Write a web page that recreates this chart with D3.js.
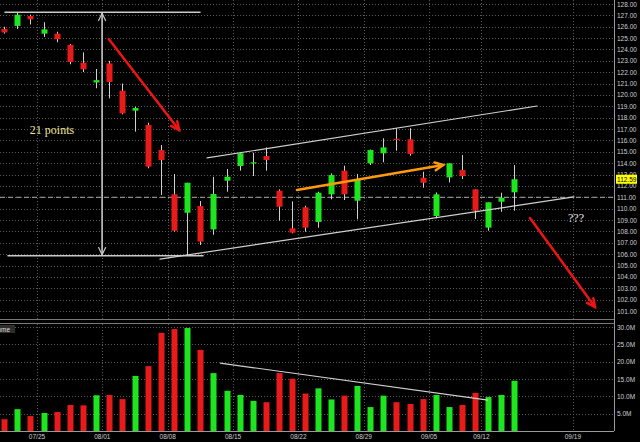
<!DOCTYPE html>
<html>
<head>
<meta charset="utf-8">
<style>
    body { margin: 0; background: #000; }
    svg { display: block; }
    text { font-family: "Liberation Sans", Arial, sans-serif; }
</style>
</head>
<body>
<svg id="chart" width="640" height="442"></svg>
<script src="https://d3js.org/d3.v7.min.js"></script>
<script>
    // trading days shown, then the empty calendar days on the right
    let dates = ['07/20', '07/21', '07/22',
        '07/25', '07/26', '07/27', '07/28', '07/29',
        '08/01', '08/02', '08/03', '08/04', '08/05',
        '08/08', '08/09', '08/10', '08/11', '08/12',
        '08/15', '08/16', '08/17', '08/18', '08/19',
        '08/22', '08/23', '08/24', '08/25', '08/26',
        '08/29', '08/30', '08/31', '09/01', '09/02',
        '09/06', '09/07', '09/08', '09/09',
        '09/12', '09/13', '09/14']
    let futureDays = ['09/15', '09/16', '09/17', '09/18', '09/19', '09/20', '09/21']

    let open = [125.8, 126.07, 126.94, 125.39, 125.39, 124.4, 122.84, 121.1, 122.78, 120.37,
        118.62, 117.36, 115.16, 111.26, 109.64, 110.23, 108.18, 112.46, 113.75, 114.0,
        114.63, 111.58, 108.27, 110.12, 108.83, 111.26, 113.34, 110.7, 113.99, 114.87,
        116.15, 116.1, 112.72, 109.35, 112.75, 113.4, 111.7, 108.33, 110.61, 111.44]
    let high = [126.0, 127.3, 127.06, 126.4, 125.56, 124.48, 123.75, 122.28, 123.0, 121.0,
        118.97, 117.56, 115.6, 113.05, 112.28, 110.67, 112.8, 113.49, 114.92, 114.92,
        115.39, 111.7, 110.64, 110.26, 111.49, 113.1, 113.78, 113.05, 115.2, 116.19,
        117.07, 117.07, 113.25, 111.43, 113.99, 114.72, 111.7, 110.56, 111.4, 113.84]
    let low = [125.4, 125.8, 126.2, 125.1, 124.63, 122.7, 122.02, 120.59, 119.7, 118.3,
        116.77, 113.55, 111.2, 107.97, 105.9, 106.8, 107.7, 111.49, 113.34, 112.87,
        113.34, 108.94, 107.83, 107.97, 108.33, 110.82, 110.76, 109.06, 113.84, 114.08,
        115.1, 114.66, 111.84, 109.15, 112.32, 112.61, 109.09, 108.06, 109.73, 109.82]
    let close = [125.5, 127.06, 126.65, 125.77, 124.9, 122.9, 122.26, 121.3, 121.14, 118.39,
        118.85, 113.7, 114.28, 108.06, 112.28, 107.1, 111.29, 112.81, 114.87, 114.08,
        114.28, 110.17, 107.89, 108.33, 111.4, 112.96, 111.26, 112.52, 115.16, 115.39,
        116.05, 114.81, 112.28, 111.26, 113.99, 112.87, 109.82, 110.56, 110.96, 112.59]
    // millions of shares
    let volume = [3.4, 6.3, 4.3, 5.2, 5.5, 7.5, 7.4, 10.3, 10.4, 9.2,
        15.9, 18.7, 28.3, 29.4, 29.7, 23.4, 16.7, 11.6, 10.4, 8.7,
        8.3, 16.7, 15.1, 10.8, 12.3, 9.1, 10.2, 13.0, 6.9, 10.2,
        8.3, 7.8, 9.2, 10.4, 6.9, 7.5, 11.0, 9.8, 10.4, 14.5]

    let tickDates = ['07/25', '08/01', '08/08', '08/15', '08/22', '08/29', '09/06', '09/12', '09/19']
    let tickLabels = ['07/25', '08/01', '08/08', '08/15', '08/22', '08/29', '09/05', '09/12', '09/19']
    let priceTicks = d3.range(101, 129)
    let volumeTicks = [5, 10, 15, 20, 25, 30]
    let lastPrice = 112.59
    let refPrice = 111.0

    let red = '#e81b1b'
    let green = '#1ee61e'
    let gridColor = '#5a5a5a'

    let svg = d3.select('#chart')
    svg.append('rect').attr('width', 640).attr('height', 442).attr('fill', '#000')

    let slots = dates.concat(futureDays)
    let x = d3.scaleBand().domain(slots).range([-2.2, -2.2 + slots.length * 13.07])
    let step = x.step()
    let cx = d => x(d) + step / 2
    // fractional slot position for the drawn annotations
    let xAt = i => x(slots[0]) + step / 2 + i * step

    let yP = d3.scaleLinear().domain([101, 128]).range([311, 4])
    let yV = d3.scaleLinear().domain([0, 30]).range([431, 327])

    let right = 614

    // grid
    let grid = svg.append('g')
    grid.selectAll('.hp').data(priceTicks).join('line')
        .attr('x1', 0).attr('x2', right)
        .attr('y1', d => Math.round(yP(d)) + 0.5).attr('y2', d => Math.round(yP(d)) + 0.5)
        .attr('stroke', gridColor).attr('stroke-dasharray', '1,2')
    grid.selectAll('.hv').data(volumeTicks).join('line')
        .attr('x1', 0).attr('x2', right)
        .attr('y1', d => Math.round(yV(d)) + 0.5).attr('y2', d => Math.round(yV(d)) + 0.5)
        .attr('stroke', gridColor).attr('stroke-dasharray', '1,2')
    tickDates.forEach(function (d) {
        let gx = Math.round(x(d)) + 0.5
        grid.append('line').attr('x1', gx).attr('x2', gx).attr('y1', 0).attr('y2', 319)
            .attr('stroke', gridColor).attr('stroke-dasharray', '1,2')
        grid.append('line').attr('x1', gx).attr('x2', gx).attr('y1', 324).attr('y2', 431)
            .attr('stroke', gridColor).attr('stroke-dasharray', '1,2')
    })

    // reference dashed line
    svg.append('line')
        .attr('x1', 0).attr('x2', right)
        .attr('y1', yP(refPrice)).attr('y2', yP(refPrice))
        .attr('stroke', '#aaa').attr('stroke-dasharray', '5,3')

    // panel borders
    svg.append('line').attr('x1', 0).attr('x2', right).attr('y1', 319.5).attr('y2', 319.5).attr('stroke', '#777')
    svg.append('line').attr('x1', 0).attr('x2', right).attr('y1', 323.5).attr('y2', 323.5).attr('stroke', '#777')
    svg.append('line').attr('x1', right + 0.5).attr('x2', right + 0.5).attr('y1', 0).attr('y2', 431).attr('stroke', '#999')
    svg.append('line').attr('x1', 0).attr('x2', right).attr('y1', 431.5).attr('y2', 431.5).attr('stroke', '#999')

    // candles
    let candles = svg.append('g').selectAll('g').data(dates).join('g')
    candles.append('line')
        .attr('x1', d => Math.round(cx(d)) + 0.5).attr('x2', d => Math.round(cx(d)) + 0.5)
        .attr('y1', (d, i) => yP(high[i])).attr('y2', (d, i) => yP(low[i]))
        .attr('stroke', '#d0d0d0')
    candles.append('rect')
        .attr('x', d => Math.round(cx(d)) - 2.5)
        .attr('width', 6)
        .attr('y', (d, i) => yP(Math.max(open[i], close[i])))
        .attr('height', (d, i) => Math.max(1.2, Math.abs(yP(open[i]) - yP(close[i]))))
        .attr('fill', (d, i) => close[i] >= open[i] ? green : red)

    // volume
    svg.append('g').selectAll('rect').data(dates).join('rect')
        .attr('x', d => Math.round(cx(d)) - 2.5)
        .attr('width', 6)
        .attr('y', (d, i) => yV(volume[i]))
        .attr('height', (d, i) => yV(0) - yV(volume[i]))
        .attr('fill', (d, i) => close[i] >= open[i] ? green : red)

    // axis labels
    svg.append('g').selectAll('text').data(priceTicks).join('text')
        .attr('x', 617).attr('y', d => yP(d) + 2.5)
        .attr('font-size', 6.5).attr('fill', '#cfcfcf')
        .text(d => d.toFixed(2))
    svg.append('g').selectAll('text').data(volumeTicks).join('text')
        .attr('x', 617).attr('y', d => yV(d) + 2.5)
        .attr('font-size', 6.5).attr('fill', '#cfcfcf')
        .text(d => d.toFixed(1) + 'M')
    svg.append('g').selectAll('text').data(tickDates).join('text')
        .attr('x', d => x(d)).attr('y', 439)
        .attr('text-anchor', 'middle')
        .attr('font-size', 6.5).attr('fill', '#cfcfcf')
        .text((d, i) => tickLabels[i])

    // last price tag
    svg.append('rect')
        .attr('x', 616).attr('y', yP(lastPrice) - 4.5).attr('width', 21).attr('height', 9)
        .attr('fill', '#ffff00')
    svg.append('text')
        .attr('x', 617).attr('y', yP(lastPrice) + 2.5)
        .attr('font-size', 6.5).attr('fill', '#000')
        .text(lastPrice.toFixed(2))

    // volume panel title
    svg.append('rect').attr('x', 0).attr('y', 325).attr('width', 15).attr('height', 8).attr('fill', '#2e2e2e')
    svg.append('text').attr('x', 10).attr('y', 331.5).attr('text-anchor', 'end')
        .attr('font-size', 6.5).attr('fill', '#ddd').text('Volume')

    // ---- drawn annotations ----
    function seg(x1, y1, x2, y2, color, w) {
        svg.append('line').attr('x1', x1).attr('y1', y1).attr('x2', x2).attr('y2', y2)
            .attr('stroke', color).attr('stroke-width', w).attr('stroke-linecap', 'round')
    }
    // chevron head at (x2,y2) pointing away from (x1,y1)
    function head(x1, y1, x2, y2, color, w, len) {
        let a = Math.atan2(y2 - y1, x2 - x1)
        let pts = [
            [x2 - len * Math.cos(a - 0.45), y2 - len * Math.sin(a - 0.45)],
            [x2, y2],
            [x2 - len * Math.cos(a + 0.45), y2 - len * Math.sin(a + 0.45)]]
        svg.append('polyline').attr('points', pts.map(p => p.join(',')).join(' '))
            .attr('fill', 'none').attr('stroke', color).attr('stroke-width', w)
            .attr('stroke-linejoin', 'miter').attr('stroke-linecap', 'round')
    }
    function arrow(i1, p1, i2, p2, color, w, len) {
        let x1 = xAt(i1), y1 = yP(p1), x2 = xAt(i2), y2 = yP(p2)
        seg(x1, y1, x2, y2, color, w)
        head(x1, y1, x2, y2, color, w, len)
    }

    let topLevel = 127.27
    let bottomLevel = 105.86
    seg(xAt(0.05), yP(topLevel), xAt(14.97), yP(topLevel), '#c8c8c8', 1.6)
    seg(xAt(0.28), yP(bottomLevel), xAt(15.2), yP(bottomLevel), '#c8c8c8', 1.6)
    seg(xAt(7.48), yP(topLevel) + 1, xAt(7.48), yP(bottomLevel) - 1, '#c8c8c8', 1.6)
    head(xAt(7.48), yP(bottomLevel), xAt(7.48), yP(topLevel) + 1, '#c8c8c8', 1.2, 8)
    head(xAt(7.48), yP(topLevel), xAt(7.48), yP(bottomLevel) - 1, '#c8c8c8', 1.2, 8)

    // channel
    seg(xAt(15.51), yP(114.46), xAt(40.76), yP(119.03), '#cfcfcf', 1.2)
    seg(xAt(11.91), yP(105.57), xAt(43.59), yP(111.03), '#cfcfcf', 1.2)

    arrow(7.99, 124.92, 13.37, 116.92, '#ee1414', 2.5, 9)
    arrow(40.22, 109.18, 45.19, 101.35, '#ee1414', 2.5, 9)
    arrow(22.39, 111.64, 33.57, 113.84, '#ff9a10', 2.5, 9)

    // volume trend
    svg.append('line')
        .attr('x1', xAt(16.5)).attr('y1', yV(19.6)).attr('x2', xAt(37.01)).attr('y2', yV(8.9))
        .attr('stroke', '#cfcfcf').attr('stroke-width', 1.2)

    svg.append('text').attr('x', xAt(3.65)).attr('y', yP(116.92) + 4)
        .attr('text-anchor', 'middle')
        .style('font-family', '"Liberation Serif", "Times New Roman", serif')
        .attr('font-size', 12).attr('fill', '#ece49a').text('21 points')
    svg.append('text').attr('x', 576).attr('y', yP(109.2) + 4)
        .attr('text-anchor', 'middle')
        .style('font-family', '"Liberation Serif", "Times New Roman", serif')
        .attr('font-size', 12).attr('fill', '#e6e6e6').text('???')
</script>
</body>
</html>
